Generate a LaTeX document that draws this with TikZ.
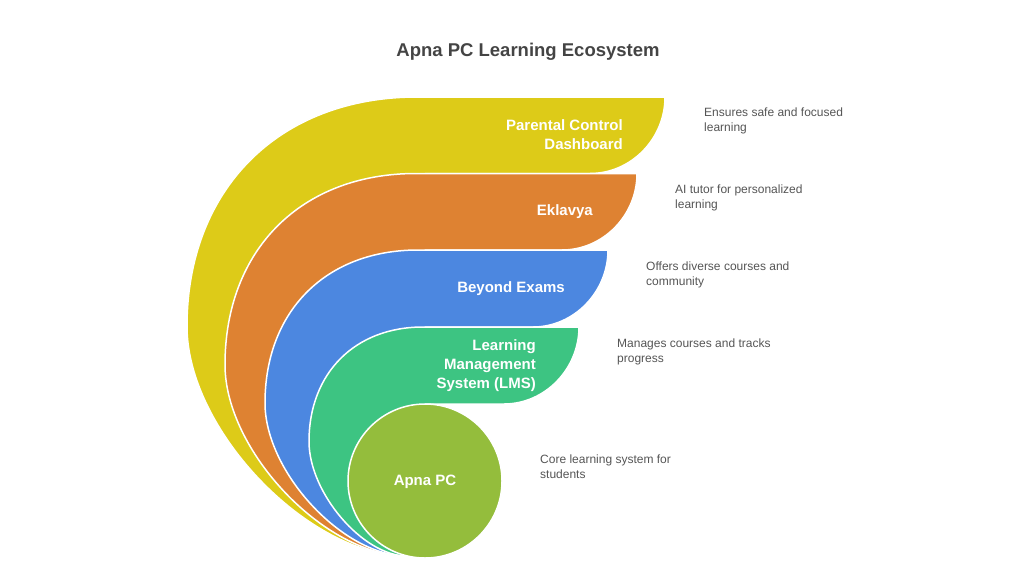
\documentclass[tikz,border=0pt]{standalone}
\usepackage{fontspec}
\setmainfont{Liberation Sans}
\definecolor{dashyellow}{HTML}{DDCB18}
\definecolor{eklorange}{HTML}{DE8232}
\definecolor{examblue}{HTML}{4C87E0}
\definecolor{lmsgreen}{HTML}{3DC482}
\definecolor{pclime}{HTML}{94BD3C}
\definecolor{titlegray}{HTML}{444444}
\definecolor{notegray}{HTML}{555555}
\tikzset{
  band/.style={draw=white, line width=1.5pt, line join=round},
  lbl/.style={text=white, font=\fontsize{15}{19}\selectfont\bfseries, align=right, anchor=east, inner sep=0pt},
  note/.style={text=notegray, font=\fontsize{12}{15}\selectfont, align=left, anchor=west, inner sep=0pt},
}
\begin{document}
\begin{tikzpicture}[x=1pt,y=-1pt]
\useasboundingbox (0,0) rectangle (1024,576);

\node[text=titlegray, font=\fontsize{18.5}{22}\selectfont\bfseries] (title) at (528,52) {Apna PC Learning Ecosystem};

% layers, outer one first
\filldraw[band, fill=dashyellow] (407,556) .. controls (308,556) and (187,429.5) .. (187,326.5) .. controls (187,189) and (279,97) .. (417,97) -- (665,97) .. controls (665,139) and (631,173.5) .. (590,173.5) -- (425,173.5) -- (425,481) -- cycle;
\filldraw[band, fill=eklorange] (407,556) .. controls (325,556) and (225,451) .. (225,364.75) .. controls (225,250) and (301,173.5) .. (416,173.5) -- (637,173.5) .. controls (637,215.5) and (603,250) .. (562,250) -- (425,250) -- (425,481) -- cycle;
\filldraw[band, fill=examblue] (407,556) .. controls (343,556) and (265,472) .. (265,403) .. controls (265,311) and (326,250) .. (418,250) -- (608,250) .. controls (608,292) and (574,327) .. (533,327) -- (425,327) -- (425,481) -- cycle;
\filldraw[band, fill=lmsgreen] (407,556) .. controls (363,556) and (309,493) .. (309,441.5) .. controls (309,373) and (355,327) .. (423,327) -- (579,327) .. controls (579,369) and (545,404) .. (504,404) -- (425,404) -- (425,481) -- cycle;
\filldraw[band, fill=pclime] (425,481) circle (77);

% labels
\node[lbl] (dash) at (623,134.5) {Parental Control\\Dashboard};
\node[lbl] (ekl) at (593,212) {Eklavya};
\node[lbl] (beyond) at (565,289) {Beyond Exams};
\node[lbl] (lms) at (536,366) {Learning\\Management\\System (LMS)};
\node[lbl, anchor=center] (apna) at (425,482) {Apna PC};

% notes
\node[note] (dashnote) at (704,120.5) {Ensures safe and focused\\learning};
\node[note] (eklnote) at (675,197.5) {AI tutor for personalized\\learning};
\node[note] (beyondnote) at (646,274.5) {Offers diverse courses and\\community};
\node[note] (lmsnote) at (617,351.5) {Manages courses and tracks\\progress};
\node[note] (apnanote) at (540,467) {Core learning system for\\students};
\end{tikzpicture}
\end{document}
